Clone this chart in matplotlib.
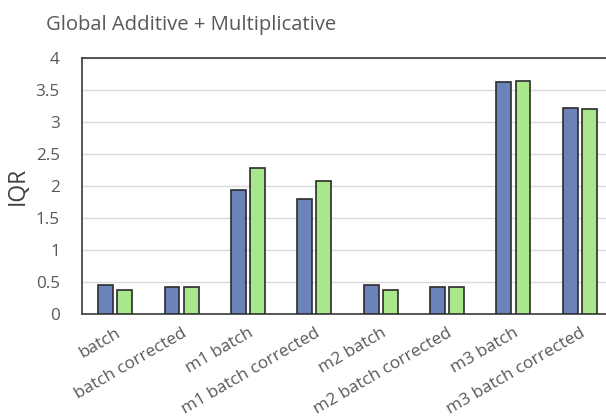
import matplotlib.pyplot as plt
import numpy as np

plt.rcParams['font.family'] = ['Open Sans', 'DejaVu Sans']

categories = ['batch', 'batch corrected', 'm1 batch', 'm1 batch corrected',
              'm2 batch', 'm2 batch corrected', 'm3 batch', 'm3 batch corrected']
series_a = [0.45, 0.42, 1.94, 1.80, 0.46, 0.42, 3.63, 3.22]
series_b = [0.38, 0.42, 2.29, 2.09, 0.38, 0.42, 3.64, 3.21]
yticks = [0, 0.5, 1, 1.5, 2, 2.5, 3, 3.5, 4]
ytick_labels = ['0', '0.5', '1', '1.5', '2', '2.5', '3', '3.5', '4']

fig = plt.figure(figsize=(6.06, 4.19), dpi=100)
ax = fig.add_axes([82 / 606, 1 - 314.3 / 419, 531 / 606, 256 / 419])

x = np.arange(len(categories))
w = 0.225
off = 0.144
ax.bar(x - off, series_a, width=w, color='#6b83b8', edgecolor='#2b2b2b', linewidth=1.2, zorder=3)
ax.bar(x + off, series_b, width=w, color='#a9e78c', edgecolor='#2b2b2b', linewidth=1.2, zorder=3)

ax.set_xlim(-0.5, len(categories) - 0.5)
ax.set_ylim(0, 4)
ax.set_yticks(yticks)
ax.set_yticklabels(ytick_labels)
ax.yaxis.grid(True, color='#d9d9d9', linewidth=1.0, zorder=0)
ax.set_axisbelow(True)

ax.set_xticks(x)
ax.set_xticklabels(categories, rotation=30, ha='right', rotation_mode='anchor')
ax.tick_params(axis='both', length=0, colors='#595959', labelsize=12.3)
ax.tick_params(axis='y', pad=16)
ax.tick_params(axis='x', pad=8)

for side in ['left', 'bottom', 'top']:
    ax.spines[side].set_color('#3a3a3a')
    ax.spines[side].set_linewidth(1.2)
ax.spines['right'].set_visible(False)

ax.set_ylabel('IQR', fontsize=16.5, color='#404040')
ax.yaxis.set_label_coords(-52 / 531, 0.5)
fig.text(46 / 606, 1 - 30 / 419, 'Global Additive + Multiplicative',
         fontsize=14.6, color='#595959', ha='left', va='baseline')

fig.savefig('out.png', dpi=100)
